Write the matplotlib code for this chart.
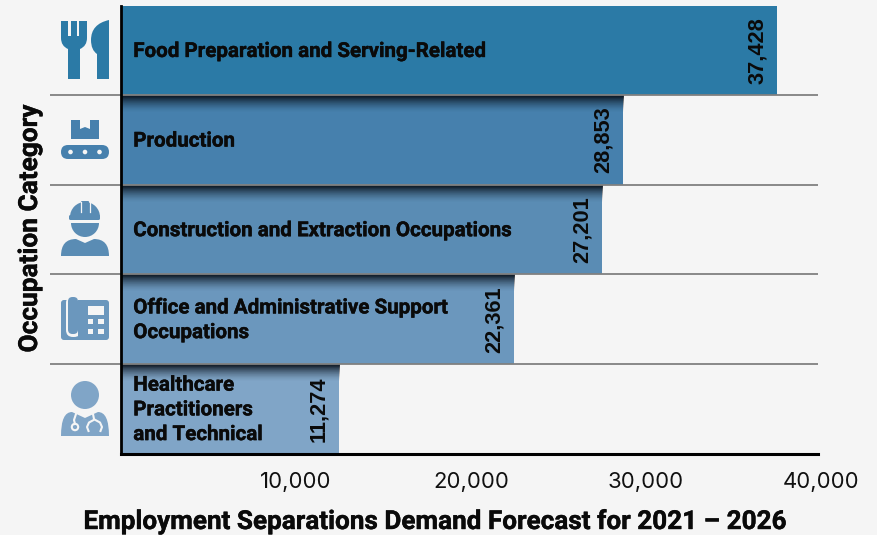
import numpy as np
import matplotlib.pyplot as plt
import matplotlib.patheffects as pe
from matplotlib.patches import Circle, FancyBboxPatch, PathPatch, Polygon, Rectangle, Wedge
from matplotlib.path import Path

categories = ['Food Preparation and Serving-Related', 'Production',
              'Construction and Extraction Occupations',
              'Office and Administrative Support\nOccupations',
              'Healthcare\nPractitioners\nand Technical']
bar_lengths = [37490, 28690, 27490, 22460, 12460]
value_labels = ['37,428', '28,853', '27,201', '22,361', '11,274']
colors = ['#2b7aa6', '#4680ad', '#5a8cb4', '#6b97bd', '#80a5c7']
x_ticks = [10000, 20000, 30000, 40000]
BG = '#f5f5f5'
W, H = 877, 535
LINE_END = 39830

fig = plt.figure(figsize=(W / 100, H / 100), dpi=100, facecolor=BG)
ax = fig.add_axes([121 / W, 1 - 453.6 / H, 700 / W, (453.6 - 5.6) / H])
ax.set_facecolor('none')

y = np.arange(len(categories))
ax.barh(y, bar_lengths, height=1, color=colors, zorder=2)

# dark shadow fading down from the top of every bar but the first
shade = np.zeros((64, 1, 4))
shade[:, 0, :3] = (0.03, 0.06, 0.1)
shade[:, 0, 3] = np.linspace(1, 0, 64) ** 1.6
for i in y[1:]:
    ax.imshow(shade, extent=[0, bar_lengths[i], i - 0.5 + 0.2, i - 0.5],
              aspect='auto', zorder=3, interpolation='nearest')

ax.hlines(y[:-1] + 0.5, -4050, LINE_END, color='#808080', lw=1.3, zorder=4, clip_on=False)

bolder = [pe.withStroke(linewidth=0.3, foreground='#0a0a0a')]
for i in y:
    ax.text(700, i + 0.012, categories[i], family='Roboto', weight='bold', fontsize=14.8,
            va='center', ha='left', linespacing=1.38, zorder=5, color='#0a0a0a',
            path_effects=bolder)
    ax.annotate(value_labels[i], (bar_lengths[i], i), xytext=(-14.4, 0),
                textcoords='offset points', rotation=90, ha='center', va='center',
                family='Liberation Sans', weight='bold', fontsize=15.7,
                color='#0a0a0a', zorder=5)

ax.set_yticks([])
ax.set_xticks(x_ticks)
ax.set_xticklabels([f'{t:,}' for t in x_ticks], family='Inter', fontsize=15.9,
                   color='#111111')
ax.tick_params(axis='x', length=0, pad=13)
ax.set_xlim(0, 40000)
ax.set_ylim(4.5, -0.5)
for s in ['top', 'right']:
    ax.spines[s].set_visible(False)
ax.spines['left'].set_linewidth(2)
ax.spines['bottom'].set_linewidth(2.2)
ax.spines['bottom'].set_bounds(0, LINE_END)
ax.spines['left'].set_zorder(6)
ax.spines['bottom'].set_zorder(6)

fig.text(435 / W, 1 - 522 / H, 'Employment Separations Demand Forecast for 2021 – 2026',
         family='Roboto', weight='bold', fontsize=18.8, ha='center', va='center',
         color='#0a0a0a', path_effects=bolder)
fig.text(30 / W, 1 - 228.5 / H, 'Occupation Category', family='Roboto', weight='bold',
         fontsize=18.9, rotation=90, ha='center', va='center', color='#0a0a0a',
         path_effects=bolder)

# icons, on an overlay in pixel coordinates
ic = fig.add_axes([0, 0, 1, 1])
ic.set_xlim(0, W)
ic.set_ylim(H, 0)
ic.axis('off')
ic.patch.set_alpha(0)


def rrect(x0, y0, x1, y1, r, c):
    ic.add_patch(FancyBboxPatch((x0 + r, y0 + r), x1 - x0 - 2 * r, y1 - y0 - 2 * r,
                                boxstyle=f'round,pad={r}', fc=c, ec='none'))


def poly(pts, c):
    ic.add_patch(Polygon(pts, closed=True, fc=c, ec='none'))


def curve(verts, codes, c):
    ic.add_patch(PathPatch(Path(verts, codes), fc=c, ec='none'))


M, L, C3, Z = Path.MOVETO, Path.LINETO, Path.CURVE3, Path.CLOSEPOLY

# fork and knife
c = colors[0]
curve([(61, 21), (68, 21), (68, 36), (71, 36), (71, 21), (77, 21), (77, 36), (79, 36),
       (79, 21), (87, 21), (87, 38), (87, 46), (80, 49), (80, 79), (68, 79), (68, 49),
       (61, 46), (61, 38), (61, 21)],
      [M, L, L, L, L, L, L, L, L, L, L, C3, C3, L, L, L, C3, C3, Z], c)
curve([(109, 20), (91, 24), (91, 40), (91, 50), (97, 54), (97, 79), (109, 79), (109, 20)],
      [M, C3, C3, C3, C3, L, L, Z], c)

# box on a conveyor
c = colors[1]
poly([(71, 120), (80, 120), (80, 129), (85, 127), (90, 129), (90, 120), (99, 120),
      (99, 139), (71, 139)], c)
rrect(61, 145, 109, 159, 7, c)
for dot_x in (70.5, 85, 99.5):
    ic.add_patch(Circle((dot_x, 152), 2.3, fc=BG, ec='none'))

# worker in a hard hat
c = colors[2]
ic.add_patch(Wedge((85, 217), 15, 180, 360, fc=c, ec='none'))
rrect(81, 201, 89, 212, 1, c)
ic.plot([80.5, 80.5], [202, 212], color=BG, lw=0.9)
ic.plot([89.5, 89.5], [202, 212], color=BG, lw=0.9)
rrect(69, 215, 100, 220, 1.5, c)
ic.add_patch(Wedge((85, 223), 14, 0, 180, fc=c, ec='none'))
curve([(61, 256), (61, 239), (76, 239), (85, 243), (94, 239), (109, 239), (109, 256), (61, 256)],
      [M, C3, L, L, L, C3, L, Z], c)

# desk phone
c = colors[3]
rrect(61, 300, 109, 340, 3, c)
rrect(66, 296, 81, 337, 7, BG)
rrect(68, 297, 78, 334, 4.5, c)
rrect(78, 300, 84, 340, 0.1, c)
ic.add_patch(Rectangle((87.5, 306), 16, 8.5, fc=BG, ec='none'))
for ky in (319, 329):
    for kx in (87.5, 98):
        ic.add_patch(Rectangle((kx, ky), 5.5, 5, fc=BG, ec='none'))

# doctor with stethoscope
c = colors[4]
ic.add_patch(Circle((85, 395), 14, fc=c, ec='none'))
curve([(61, 436), (61, 412), (72, 412), (85, 418), (98, 412), (109, 412), (109, 436), (61, 436)],
      [M, C3, L, L, L, C3, L, Z], c)
ic.plot([76, 74, 75], [414, 420, 424], color=BG, lw=1.5)
ic.add_patch(Circle((75, 427), 3.2, fc=c, ec=BG, lw=1.5))
ic.plot([93, 94], [414, 419], color=BG, lw=1.5)
ic.plot([88.5, 87, 89, 94.5, 100, 102, 100.5], [431, 427, 422.5, 419.5, 422.5, 427, 431],
        color=BG, lw=1.5)

fig.savefig('out.png', dpi=100, facecolor=BG)
